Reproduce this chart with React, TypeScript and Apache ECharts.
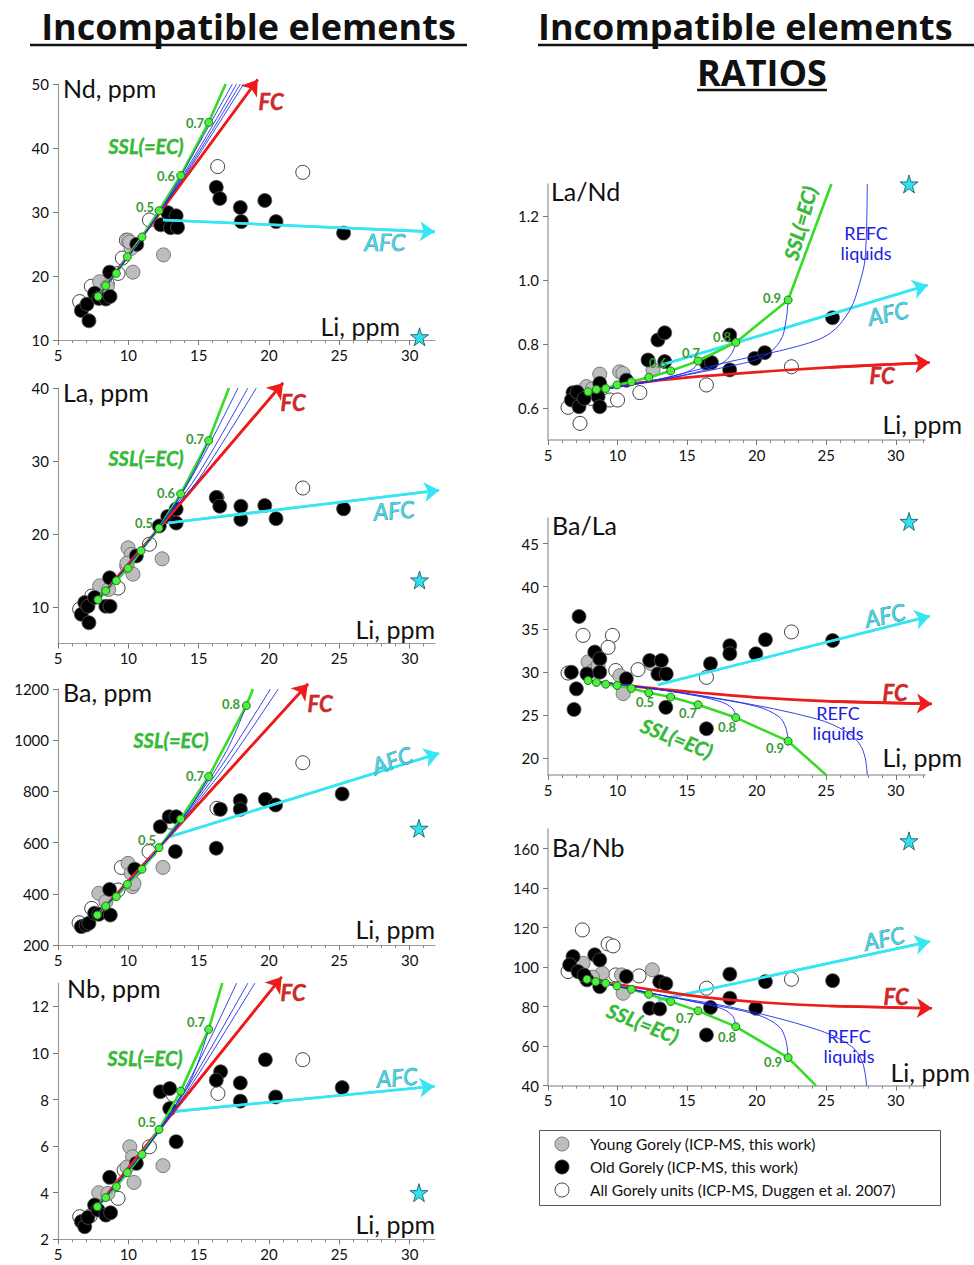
import React, { useEffect, useRef } from "react";
import * as echarts from "echarts";

// ---------- shared ticks ----------
const LI_TICKS = [5, 10, 15, 20, 25, 30];

// ---------- Nd, ppm ----------
const ND_TICKS = [10, 20, 30, 40, 50];
const ND_YOUNG = [[7.96, 19.1], [8.5, 18.3], [9.98, 25.6], [10.2, 24.3], [10.33, 20.6], [12.5, 23.3], [10.1, 25.3]];
const ND_OLD = [[6.66, 14.6], [7.06, 15.6], [7.2, 13.0], [7.6, 17.3], [7.9, 16.5], [8.4, 16.4], [8.7, 16.8], [8.67, 20.6], [10.6, 24.95], [12.3, 28.0], [12.8, 29.9], [13.0, 27.55], [13.4, 29.4], [13.5, 27.6], [16.25, 33.85], [16.5, 32.1], [17.96, 30.7], [18.03, 28.5], [19.7, 31.8], [20.5, 28.5], [25.3, 26.7]];
const ND_DUGGEN = [[6.54, 16.0], [7.37, 18.4], [9.27, 20.4], [9.57, 22.8], [9.86, 25.6], [11.5, 28.75], [16.35, 37.1], [22.4, 36.2], [8.5, 18.8]];
const ND_STAR = [[30.7, 10.5]];
const ND_SSL = [[7.85, 16.8], [8.39, 18.5], [9.15, 20.4], [9.93, 23.0], [10.97, 26.1], [12.18, 30.2], [13.72, 35.7], [15.71, 44.0], [16.92, 50]];
const ND_FC = [[7.85, 16.8], [19.2, 50.7]];
const ND_AFC = [[12.46, 28.75], [31.8, 26.9]];
const ND_REFC = [
  [[7.85, 16.8], [11, 26.1], [13, 32.8], [15, 40.6], [17.4, 50]],
  [[7.85, 16.8], [11, 26.1], [13, 32.6], [15, 39.8], [17.7, 50]],
  [[7.85, 16.8], [11, 26.1], [13, 32.5], [15, 39.3], [17.96, 50]],
  [[7.85, 16.8], [11, 26.1], [13, 32.4], [15, 38.9], [18.2, 50]],
];

// ---------- La, ppm ----------
const LA_TICKS = [10, 20, 30, 40];
const LA_YOUNG = [[7.96, 12.9], [8.6, 12.4], [9.98, 18.1], [10.2, 17.2], [10.33, 14.5], [12.4, 16.6], [9.9, 16.0]];
const LA_OLD = [[6.66, 9.0], [6.9, 10.6], [7.2, 7.85], [7.13, 10.1], [7.6, 11.3], [8.4, 10.1], [8.7, 10.1], [8.67, 14.0], [10.57, 17.0], [12.2, 21.1], [12.8, 22.4], [13.4, 23.4], [13.4, 21.5], [16.25, 25.0], [16.5, 23.8], [18.0, 23.8], [18.0, 22.0], [19.7, 23.9], [20.5, 22.1], [25.3, 23.45]];
const LA_DUGGEN = [[6.54, 9.7], [7.4, 11.5], [9.27, 12.6], [9.9, 15.6], [11.5, 18.6], [16.3, 25.0], [22.4, 26.3]];
const LA_STAR = [[30.7, 13.7]];
const LA_SSL = [[7.84, 11.0], [8.39, 12.2], [9.15, 13.6], [9.98, 15.3], [10.9, 17.7], [12.18, 20.8], [13.72, 25.5], [15.71, 32.8], [17.15, 40]];
const LA_FC = [[7.84, 11.0], [21.0, 40.7]];
const LA_AFC = [[12.8, 21.5], [32.1, 26.0]];
const LA_REFC = [
  [[7.84, 11], [11, 18], [13, 23.2], [14.5, 28], [15.71, 32.8]],
  [[7.84, 11], [11, 18], [13, 23.1], [15, 29.5], [17.8, 40]],
  [[7.84, 11], [11, 18], [13, 23.0], [15, 28.3], [18.5, 40]],
  [[7.84, 11], [11, 18], [13, 22.9], [15, 27.5], [19.1, 40]],
];

// ---------- Ba, ppm ----------
const BA_TICKS = [200, 400, 600, 800, 1000, 1200];
const BA_YOUNG = [[7.9, 402], [8.4, 369], [9.98, 519], [10.2, 480], [10.3, 428], [12.46, 503], [10.4, 440]];
const BA_OLD = [[6.66, 272], [7.0, 278], [7.2, 285], [7.6, 324], [7.9, 320], [8.72, 317], [8.67, 417], [10.45, 496], [12.27, 662], [12.9, 701], [13.4, 701], [13.34, 565], [16.25, 578], [16.54, 730], [17.96, 764], [17.96, 730], [19.74, 769], [20.47, 747], [25.2, 790]];
const BA_DUGGEN = [[6.5, 287], [7.4, 343], [9.27, 415], [9.5, 503], [11.47, 565], [16.3, 734], [22.4, 912], [13.0, 680]];
const BA_STAR = [[30.66, 656]];
const BA_SSL = [[7.8, 317], [8.39, 352], [9.15, 389], [9.93, 437], [10.97, 496], [12.18, 580], [13.72, 692], [15.71, 858], [18.39, 1135], [18.86, 1200]];
const BA_FC = [[7.8, 317], [22.77, 1220]];
const BA_AFC = [[12.94, 623], [32.1, 949]];
const BA_REFC = [
  [[7.8, 317], [11, 505], [13, 636], [14.5, 745], [15.71, 858]],
  [[7.8, 317], [11, 505], [13, 634], [15, 785], [17, 960], [18.39, 1135]],
  [[7.8, 317], [11, 505], [13, 632], [15, 775], [17, 930], [20.1, 1200]],
  [[7.8, 317], [11, 505], [13, 630], [15, 765], [17, 905], [20.66, 1200]],
];

// ---------- Nb, ppm ----------
const NB_TICKS = [2, 4, 6, 8, 10, 12];
const NB_YOUNG = [[7.9, 4.0], [8.55, 3.97], [10.1, 5.97], [10.3, 5.54], [10.4, 4.44], [12.46, 5.16], [9.9, 5.1]];
const NB_OLD = [[6.66, 2.76], [6.9, 2.54], [7.13, 2.94], [7.6, 3.47], [7.84, 3.26], [8.4, 3.04], [8.74, 3.14], [8.67, 4.66], [10.57, 5.26], [12.27, 8.33], [12.94, 8.47], [12.94, 7.61], [13.4, 6.19], [16.56, 9.19], [16.25, 8.83], [17.96, 8.71], [17.96, 7.93], [19.74, 9.71], [20.47, 8.11], [25.2, 8.51]];
const NB_DUGGEN = [[6.54, 2.97], [7.3, 3.0], [9.27, 3.76], [9.7, 4.97], [11.5, 5.97], [16.37, 8.26], [22.4, 9.71], [13.2, 8.2]];
const NB_STAR = [[30.66, 4.0]];
const NB_SSL = [[7.8, 3.4], [8.39, 3.79], [9.15, 4.26], [9.93, 4.86], [10.97, 5.64], [12.18, 6.71], [13.72, 8.36], [15.71, 11.01], [16.68, 13.0]];
const NB_FC = [[7.8, 3.4], [20.9, 13.26]];
const NB_AFC = [[12.94, 7.47], [31.77, 8.57]];
const NB_REFC = [
  [[7.8, 3.4], [11, 5.7], [13, 7.45], [14.5, 8.9], [15.71, 11.01]],
  [[7.8, 3.4], [11, 5.7], [13, 7.4], [15, 9.6], [17.7, 13]],
  [[7.8, 3.4], [11, 5.7], [13, 7.35], [15, 9.3], [18.5, 13]],
  [[7.8, 3.4], [11, 5.7], [13, 7.3], [15, 9.1], [19.0, 13]],
];

// ---------- La/Nd ----------
const LAND_TICKS = [0.6, 0.8, 1.0, 1.2];
const LAND_YOUNG = [[7.76, 0.667], [8.72, 0.706], [10.15, 0.713], [10.39, 0.708], [12.55, 0.719], [8.2, 0.66]];
const LAND_OLD = [[6.8, 0.648], [6.68, 0.625], [7.23, 0.604], [7.1, 0.65], [8.6, 0.635], [8.72, 0.677], [8.72, 0.604], [10.63, 0.687], [12.19, 0.75], [12.9, 0.8125], [13.39, 0.835], [13.39, 0.745], [16.39, 0.74], [16.75, 0.742], [18.06, 0.828], [18.06, 0.719], [19.86, 0.755], [20.58, 0.773], [25.45, 0.882], [7.6, 0.63]];
const LAND_DUGGEN = [[6.44, 0.602], [7.3, 0.552], [9.43, 0.625], [10.0, 0.625], [11.6, 0.648], [16.39, 0.672], [22.5, 0.729], [8.1, 0.63]];
const LAND_STAR = [[30.95, 1.3]];
const LAND_SSL = [[7.88, 0.651], [8.48, 0.658], [9.15, 0.661], [9.96, 0.672], [10.99, 0.682], [12.24, 0.696], [13.82, 0.716], [15.79, 0.747], [18.5, 0.805], [22.26, 0.9375], [25.37, 1.3]];
const LAND_FC = [[7.88, 0.651], [10.87, 0.675], [14, 0.691], [18.07, 0.706], [25.26, 0.727], [32.45, 0.742]];
const LAND_AFC = [[13.15, 0.734], [32.3, 0.984]];
const LAND_REFC = [
  [[7.88, 0.651], [12, 0.682], [14.5, 0.705], [15.5, 0.725], [15.79, 0.747]],
  [[7.88, 0.651], [12, 0.68], [15.5, 0.71], [17.5, 0.74], [18.2, 0.77], [18.5, 0.805]],
  [[7.88, 0.651], [12, 0.68], [18, 0.73], [20.47, 0.76], [21.7, 0.81], [22.1, 0.87], [22.26, 0.9375]],
  [[7.88, 0.651], [12, 0.68], [18.07, 0.745], [22.87, 0.792], [25.26, 0.833], [26.7, 0.906], [27.4, 0.99], [27.8, 1.07], [27.95, 1.3]],
];

// ---------- Ba/La ----------
const BALA_TICKS = [20, 25, 30, 35, 40, 45];
const BALA_YOUNG = [[7.88, 31.2], [8.24, 30.2], [10.16, 29.6], [10.4, 27.5], [12.43, 31.0], [8.6, 30.8]];
const BALA_OLD = [[7.23, 36.5], [6.68, 30.0], [7.04, 28.06], [6.87, 25.65], [7.8, 29.8], [8.36, 32.35], [8.72, 31.57], [8.72, 30.0], [10.63, 29.23], [12.31, 31.37], [13.15, 31.37], [12.9, 29.8], [13.5, 29.8], [13.47, 25.9], [16.39, 23.4], [16.68, 31.0], [18.07, 33.1], [18.07, 32.15], [19.94, 32.15], [20.63, 33.8], [25.46, 33.7]];
const BALA_DUGGEN = [[6.44, 29.9], [7.52, 34.3], [9.63, 34.3], [9.32, 32.9], [9.87, 30.2], [11.47, 30.3], [16.39, 29.4], [22.5, 34.7], [8.7, 31.5]];
const BALA_STAR = [[30.95, 47.6]];
const BALA_SSL = [[7.88, 29.03], [8.48, 28.8], [9.15, 28.6], [9.96, 28.45], [10.99, 28.1], [12.24, 27.6], [13.82, 27.1], [15.79, 26.2], [18.5, 24.7], [22.26, 21.95], [25.0, 18.0]];
const BALA_FC = [[7.88, 29.03], [10, 28.55], [13.3, 28.0], [16, 27.6], [20.5, 27.0], [25.3, 26.6], [32.6, 26.3]];
const BALA_AFC = [[12.91, 28.53], [32.46, 36.55]];
const BALA_REFC = [
  [[7.88, 29.03], [12, 28.2], [15.5, 27.3], [17.5, 26.5], [18.3, 25.7], [18.5, 24.7]],
  [[7.88, 29.03], [12, 28.2], [16, 27.2], [20, 26.0], [21.6, 24.8], [22.1, 23.5], [22.26, 21.95]],
  [[7.88, 29.03], [12, 28.2], [18.07, 26.7], [24.3, 24.55], [26.5, 23.0], [27.4, 21.6], [27.8, 20.0], [27.95, 18.0]],
];

// ---------- Ba/Nb ----------
const BANB_TICKS = [40, 60, 80, 100, 120, 140, 160];
const BANB_YOUNG = [[7.52, 102], [8.9, 97], [10.28, 96.1], [10.4, 86.8], [12.5, 98.7], [8.2, 95]];
const BANB_OLD = [[6.8, 105.4], [6.56, 101.2], [7.16, 97.8], [7.8, 93.6], [8.36, 106.3], [8.72, 103.7], [8.72, 90.2], [10.63, 95.3], [12.31, 79.2], [13.03, 78.9], [13.03, 92.7], [13.47, 91.6], [16.39, 65.7], [16.68, 79.6], [18.07, 96.5], [18.07, 84.3], [19.94, 79.2], [20.63, 92.7], [25.46, 93.2], [7.6, 96]];
const BANB_DUGGEN = [[6.44, 97.8], [7.47, 118.9], [9.32, 111.8], [9.68, 110.8], [9.87, 96.1], [11.55, 95.6], [16.39, 89.4], [22.5, 93.9]];
const BANB_STAR = [[30.95, 164]];
const BANB_SSL = [[7.8, 93.9], [8.43, 92.7], [9.15, 91.9], [9.96, 90.5], [10.99, 88.8], [12.24, 86.3], [13.82, 82.6], [15.79, 77.9], [18.5, 69.9], [22.26, 54.2], [24.26, 40]];
const BANB_FC = [[7.8, 93.9], [10, 91.3], [13.3, 87.7], [16, 85.0], [20.5, 82.1], [25.3, 80.4], [32.6, 79.2]];
const BANB_AFC = [[12.91, 83.4], [32.46, 113]];
const BANB_REFC = [
  [[7.8, 93.9], [12, 87.5], [15.5, 82.5], [17.5, 79], [18.3, 75], [18.5, 69.9]],
  [[7.8, 93.9], [12, 87.3], [16, 82], [20, 76], [21.6, 70], [22.1, 63], [22.26, 54.2]],
  [[7.8, 93.9], [12, 87.2], [18, 80], [24.3, 68.5], [26.8, 60], [27.6, 52], [27.9, 40]],
];

// ---------- legend ----------
const LEGEND_LABELS = [
  "Young Gorely (ICP-MS, this work)",
  "Old Gorely (ICP-MS, this work)",
  "All Gorely units (ICP-MS, Duggen et al. 2007)",
];

const FONT = "Lato, 'Open Sans', sans-serif";
const TITLE_FONT = "'Open Sans', Lato, sans-serif";
const STAR_PATH = "path://M50,0 L61,35 L98,35 L68,57 L79,91 L50,70 L21,91 L32,57 L2,35 L39,35 Z";

const C_FC = "#ee1b1b";
const C_AFC = "#36e6f2";
const C_SSL = "#35dd25";
const C_BLUE = "#1e2ee6";

type Panel = {
  grid: { left: number; top: number; width: number; height: number };
  x: [number, number];
  y: [number, number];
  ticks: number[];
  dec: number;
  young: number[][];
  old: number[][];
  duggen: number[][];
  star: number[][];
  ssl: number[][];
  fc: number[][];
  afc: number[][];
  refc: number[][][];
  right: boolean;
};

const PANELS: Panel[] = [
  { grid: { left: 58, top: 84, width: 377, height: 256 }, x: [5, 31.8], y: [10, 50], ticks: ND_TICKS, dec: 0, young: ND_YOUNG, old: ND_OLD, duggen: ND_DUGGEN, star: ND_STAR, ssl: ND_SSL, fc: ND_FC, afc: ND_AFC, refc: ND_REFC, right: false },
  { grid: { left: 58, top: 388, width: 377, height: 255.5 }, x: [5, 31.8], y: [5, 40], ticks: LA_TICKS, dec: 0, young: LA_YOUNG, old: LA_OLD, duggen: LA_DUGGEN, star: LA_STAR, ssl: LA_SSL, fc: LA_FC, afc: LA_AFC, refc: LA_REFC, right: false },
  { grid: { left: 58, top: 689, width: 377, height: 256 }, x: [5, 31.8], y: [200, 1200], ticks: BA_TICKS, dec: 0, young: BA_YOUNG, old: BA_OLD, duggen: BA_DUGGEN, star: BA_STAR, ssl: BA_SSL, fc: BA_FC, afc: BA_AFC, refc: BA_REFC, right: false },
  { grid: { left: 58, top: 983, width: 377, height: 256.3 }, x: [5, 31.8], y: [2, 13], ticks: NB_TICKS, dec: 0, young: NB_YOUNG, old: NB_OLD, duggen: NB_DUGGEN, star: NB_STAR, ssl: NB_SSL, fc: NB_FC, afc: NB_AFC, refc: NB_REFC, right: false },
  { grid: { left: 548, top: 184, width: 377, height: 256 }, x: [5, 32.1], y: [0.5, 1.3], ticks: LAND_TICKS, dec: 1, young: LAND_YOUNG, old: LAND_OLD, duggen: LAND_DUGGEN, star: LAND_STAR, ssl: LAND_SSL, fc: LAND_FC, afc: LAND_AFC, refc: LAND_REFC, right: true },
  { grid: { left: 548, top: 518, width: 377, height: 257 }, x: [5, 32.1], y: [18, 48], ticks: BALA_TICKS, dec: 0, young: BALA_YOUNG, old: BALA_OLD, duggen: BALA_DUGGEN, star: BALA_STAR, ssl: BALA_SSL, fc: BALA_FC, afc: BALA_AFC, refc: BALA_REFC, right: true },
  { grid: { left: 548, top: 829, width: 377, height: 256.7 }, x: [5, 32.1], y: [40, 170], ticks: BANB_TICKS, dec: 0, young: BANB_YOUNG, old: BANB_OLD, duggen: BANB_DUGGEN, star: BANB_STAR, ssl: BANB_SSL, fc: BANB_FC, afc: BANB_AFC, refc: BANB_REFC, right: true },
];

function txt(x: number, y: number, text: string, o: any = {}) {
  const font = `${o.italic ? "italic " : ""}${o.bold ? "bold " : ""}${o.size || 25}px ${o.family || FONT}`;
  const style: any = {
    text,
    fill: o.fill || "#111",
    font,
    textAlign: o.align || "left",
    align: o.align || "left",
    textVerticalAlign: "middle",
    verticalAlign: "middle",
  };
  if (o.stroke) {
    style.stroke = o.stroke;
    style.lineWidth = o.lw || 0.5;
  }
  return { type: "text", x, y, rotation: o.rot || 0, style, z: 100, silent: true };
}

function measure(font: string, text: string) {
  const c = document.createElement("canvas").getContext("2d");
  if (!c) return 0;
  c.font = font;
  return c.measureText(text).width;
}

function fcLabel(x: number, y: number) {
  return txt(x, y, "FC", { bold: true, italic: true, size: 22, fill: "#d42727", stroke: "#7a1212", lw: 0.4, align: "center" });
}
function afcLabel(x: number, y: number, rot = 0) {
  return txt(x, y, "AFC", { italic: true, size: 23, fill: "#3fd6e6", stroke: "#16606a", lw: 0.6, align: "center", rot });
}
function sslLabel(x: number, y: number, rot = 0) {
  return txt(x, y, "SSL(=EC)", { bold: true, italic: true, size: 20, fill: "#2dbf2d", stroke: "#16661a", lw: 0.3, align: "center", rot });
}
function num(x: number, y: number, t: string) {
  return txt(x, y, t, { bold: true, size: 13, fill: "#3a9a34", align: "center" });
}
function refc(x: number, y: number) {
  return [
    txt(x, y, "REFC", { size: 18, fill: "#2020e0", align: "center" }),
    txt(x, y + 20, "liquids", { size: 18, fill: "#2020e0", align: "center" }),
  ];
}

// model path drawn as a line, plus an arrowhead on its last segment
function arrowPath(base: any, pts: number[][], color: string, z: number) {
  const n = pts.length;
  return [
    { ...base, type: "line", data: pts, smooth: n > 2 ? 0.3 : false, showSymbol: false, lineStyle: { color, width: 2.6 }, z },
    {
      ...base,
      type: "lines",
      coordinateSystem: "cartesian2d",
      polyline: false,
      data: [{ coords: [pts[n - 2], pts[n - 1]] }],
      lineStyle: { color, width: 2.6, opacity: 1, curveness: 0 },
      symbol: ["none", "arrow"],
      symbolSize: 15,
      z,
    },
  ];
}

function buildOption() {
  const grids: any[] = [];
  const xAxes: any[] = [];
  const yAxes: any[] = [];
  const series: any[] = [];

  PANELS.forEach((p, i) => {
    grids.push({ ...p.grid, containLabel: false, outerBoundsMode: "none" });
    const axisColor = p.right ? "#a8a8a8" : "#9a9a9a";
    xAxes.push({
      gridIndex: i,
      type: "value",
      min: p.x[0],
      max: p.x[1],
      interval: 5,
      axisLine: { show: true, onZero: false, lineStyle: { color: axisColor, width: p.right ? 1.5 : 1.2 } },
      axisTick: { show: true, customValues: LI_TICKS, length: 5, lineStyle: { color: "#777" } },
      minorTick: { show: true, splitNumber: 5, length: 3, lineStyle: { color: "#888" } },
      axisLabel: { customValues: LI_TICKS, color: "#111", fontSize: 15, fontFamily: FONT, margin: 7 },
      splitLine: { show: false },
      minorSplitLine: { show: false },
    });
    yAxes.push({
      gridIndex: i,
      type: "value",
      min: p.y[0],
      max: p.y[1],
      axisLine: { show: true, onZero: false, lineStyle: { color: axisColor, width: p.right ? 1.5 : 1.2 } },
      axisTick: { show: true, customValues: p.ticks, length: 5, lineStyle: { color: "#777" } },
      axisLabel: {
        customValues: p.ticks,
        color: "#111",
        fontSize: 15,
        fontFamily: FONT,
        margin: 9,
        formatter: (v: number) => v.toFixed(p.dec),
      },
      splitLine: { show: false },
    });

    const base = { xAxisIndex: i, yAxisIndex: i, silent: true, clip: false };
    const sym = 14;
    series.push({ ...base, type: "scatter", data: p.duggen, symbolSize: sym, itemStyle: { color: "#ffffff", borderColor: "#2a2a2a", borderWidth: 0.9, opacity: 1 }, z: 2 });
    series.push({ ...base, type: "scatter", data: p.young, symbolSize: sym, itemStyle: { color: "#bdbdbd", borderColor: "#6e6e6e", borderWidth: 0.9, opacity: 1 }, z: 3 });
    series.push({ ...base, type: "scatter", data: p.old, symbolSize: sym, itemStyle: { color: "#000000", borderColor: "#555", borderWidth: 0.8, opacity: 1 }, z: 4 });
    series.push({ ...base, type: "scatter", data: p.star, symbol: STAR_PATH, symbolSize: 18, itemStyle: { color: "#2fe2ee", borderColor: "#0b4f58", borderWidth: 0.8, opacity: 1 }, z: 4 });
    series.push(...arrowPath(base, p.afc, C_AFC, 5));
    series.push(...arrowPath(base, p.fc, C_FC, 6));
    series.push({ ...base, type: "line", data: p.ssl, showSymbol: false, lineStyle: { color: C_SSL, width: 2.6 }, z: 7 });
    p.refc.forEach((c) => {
      series.push({ ...base, type: "line", data: c, smooth: 0.35, showSymbol: false, lineStyle: { color: C_BLUE, width: 0.9 }, z: 8 });
    });
    series.push({ ...base, type: "scatter", data: p.ssl.slice(0, -1), symbolSize: 8, itemStyle: { color: "#4df040", borderColor: "#1f7a1a", borderWidth: 1, opacity: 1 }, z: 9 });
  });

  // titles
  const TITLE = "Incompatible elements";
  const mw = measure(`bold 36px ${TITLE_FONT}`, TITLE);
  const tSize = mw > 0 ? Math.min(36, (36 * 437) / mw) : 35;
  const rw = measure(`bold ${tSize}px ${TITLE_FONT}`, "RATIOS") || 148;

  const graphics: any[] = [
    txt(248.5, 26, TITLE, { bold: true, size: tSize, align: "center", fill: "#111", family: TITLE_FONT }),
    { type: "line", shape: { x1: 30, y1: 45, x2: 467, y2: 45 }, style: { stroke: "#111", lineWidth: 2.6 }, silent: true },
    txt(538, 26, TITLE, { bold: true, size: tSize, align: "left", fill: "#111", family: TITLE_FONT }),
    { type: "line", shape: { x1: 538, y1: 45, x2: 974, y2: 45 }, style: { stroke: "#111", lineWidth: 2.6 }, silent: true },
    txt(762, 72, "RATIOS", { bold: true, size: tSize, align: "center", fill: "#111", family: TITLE_FONT }),
    { type: "line", shape: { x1: 762 - rw / 2, y1: 90, x2: 762 + rw / 2, y2: 90 }, style: { stroke: "#111", lineWidth: 2.6 }, silent: true },

    // Nd panel
    txt(63, 88, "Nd, ppm", { size: 25 }),
    txt(400, 326, "Li, ppm", { size: 25, align: "right" }),
    fcLabel(271, 101), sslLabel(146, 146), afcLabel(385, 242),
    num(195, 123, "0.7"), num(166, 176, "0.6"), num(145, 207, "0.5"),
    // La panel
    txt(63, 392, "La, ppm", { size: 25 }),
    txt(435, 629, "Li, ppm", { size: 25, align: "right" }),
    fcLabel(293, 402), sslLabel(146, 458), afcLabel(394, 510, 0.08),
    num(195, 439, "0.7"), num(166, 493, "0.6"), num(144, 523, "0.5"),
    // Ba panel
    txt(63, 692, "Ba, ppm", { size: 25 }),
    txt(435, 929, "Li, ppm", { size: 25, align: "right" }),
    fcLabel(320, 703), sslLabel(171, 740), afcLabel(392, 760, 0.33),
    num(231, 704, "0.8"), num(195, 776, "0.7"), num(147, 840, "0.5"),
    // Nb panel
    txt(67, 988, "Nb, ppm", { size: 25 }),
    txt(435, 1224, "Li, ppm", { size: 25, align: "right" }),
    fcLabel(293, 992), sslLabel(145, 1058), afcLabel(397, 1077, 0.08),
    num(196, 1022, "0.7"), num(147, 1122, "0.5"),
    // La/Nd panel
    txt(551, 191, "La/Nd", { size: 25 }),
    txt(962, 424, "Li, ppm", { size: 25, align: "right" }),
    sslLabel(800, 223, 1.3), ...refc(866, 233), afcLabel(888, 313, 0.2), fcLabel(882, 375),
    num(772, 298, "0.9"), num(722, 337, "0.8"), num(691, 353, "0.7"), num(658, 363, "0.6"),
    // Ba/La panel
    txt(552, 525, "Ba/La", { size: 25 }),
    txt(962, 757, "Li, ppm", { size: 25, align: "right" }),
    afcLabel(885, 615, 0.2), fcLabel(895, 692), ...refc(838, 713), sslLabel(677, 738, -0.38),
    num(645, 702, "0.5"), num(688, 713, "0.7"), num(727, 727, "0.8"), num(775, 748, "0.9"),
    // Ba/Nb panel
    txt(552, 847, "Ba/Nb", { size: 25 }),
    txt(970, 1072, "Li, ppm", { size: 25, align: "right" }),
    afcLabel(884, 938, 0.2), fcLabel(896, 996), ...refc(849, 1036), sslLabel(643, 1023, -0.38),
    num(685, 1018, "0.7"), num(727, 1037, "0.8"), num(773, 1062, "0.9"),

    // legend box
    { type: "rect", shape: { x: 539.5, y: 1130.5, width: 401, height: 75 }, style: { fill: "#fff", stroke: "#555", lineWidth: 1 }, z: 90, silent: true },
  ];
  const legendFills = ["#bdbdbd", "#000000", "#ffffff"];
  const legendStrokes = ["#6e6e6e", "#333", "#333"];
  LEGEND_LABELS.forEach((label, k) => {
    const y = 1144 + k * 23;
    graphics.push({ type: "circle", shape: { cx: 562, cy: y, r: 7 }, style: { fill: legendFills[k], stroke: legendStrokes[k], lineWidth: 0.9 }, z: 95, silent: true });
    graphics.push(txt(590, y, label, { size: 15.5, fill: "#111" }));
  });

  return {
    animation: false,
    backgroundColor: "#ffffff",
    grid: grids,
    xAxis: xAxes,
    yAxis: yAxes,
    series,
    graphic: { elements: graphics },
  };
}

export default function App() {
  const ref = useRef<HTMLDivElement>(null);
  useEffect(() => {
    document.body.style.margin = "0";
    if (!ref.current) return;
    const chart = echarts.init(ref.current, null, { renderer: "svg" });
    chart.setOption(buildOption() as any);
    return () => chart.dispose();
  }, []);
  return <div ref={ref} style={{ width: 974, height: 1265 }} />;
}
